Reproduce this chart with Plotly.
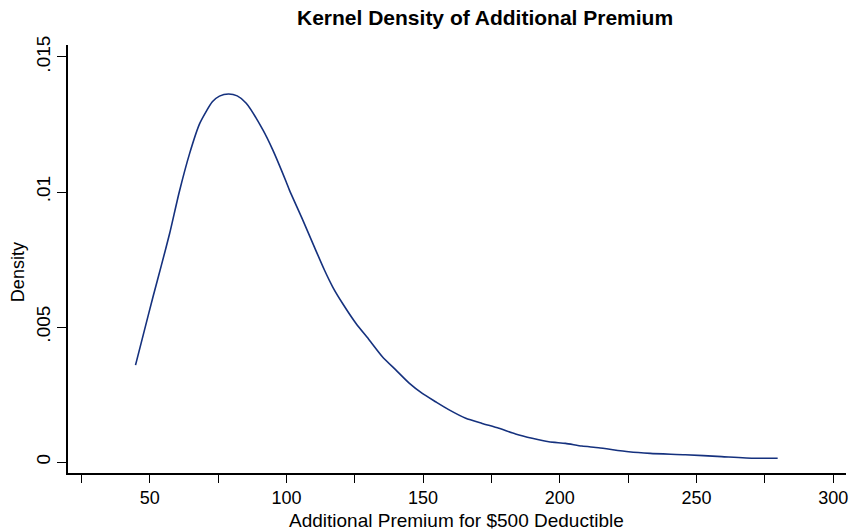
import plotly.graph_objects as go

# Kernel density estimate
premium = [44.8, 47.6, 51.2, 54.3, 57.3, 60.8, 64.6, 68.3, 72.9, 75.5, 78.8,
           82.0, 85.3, 91.4, 95.0, 99.9, 101.1, 106.0, 110.2, 113.9, 116.9,
           120.5, 125.4, 130.3, 135.1, 140.0, 144.9, 149.7, 154.6, 159.2,
           165.6, 171.6, 177.7, 183.8, 189.9, 196.0, 202.1, 208.1, 214.2,
           225.2, 233.1, 245.9, 259.2, 271.4, 279.7]
density = [0.00359, 0.00470, 0.00612, 0.00730, 0.00847, 0.01000, 0.01143,
           0.01254, 0.01334, 0.01355, 0.01363, 0.01356, 0.01329, 0.01230,
           0.01156, 0.01038, 0.01007, 0.00896, 0.00797, 0.00711, 0.00649,
           0.00588, 0.00514, 0.00452, 0.00390, 0.00341, 0.00292, 0.00254,
           0.00223, 0.00195, 0.00162, 0.00143, 0.00125, 0.00104, 0.00088,
           0.00075, 0.00069, 0.00059, 0.00053, 0.00038, 0.00032, 0.00027,
           0.00020, 0.00014, 0.00014]

x_tickvals = [25, 50, 75, 100, 125, 150, 175, 200, 225, 250, 275, 300]
x_ticktext = ["", "50", "", "100", "", "150", "", "200", "", "250", "", "300"]
y_tickvals = [0, 0.005, 0.01, 0.015]
y_ticktext = ["0", ".005", ".01", ".015"]

title_text = "Kernel Density of Additional Premium"
x_title = "Additional Premium for $500 Deductible"
y_title = "Density"

FONT = "Liberation Sans, Arial, sans-serif"
W, H = 857, 530
L, R, T, B = 68, 9, 45, 57
PW, PH = W - L - R, H - T - B


def px_x(px):
    return (px - L) / PW


def px_y(py):
    return (H - B - py) / PH


fig = go.Figure()
fig.add_trace(go.Scatter(
    x=premium, y=density, mode="lines",
    line=dict(color="#15317e", width=1.6, shape="spline", smoothing=0.6),
    showlegend=False, hoverinfo="skip",
))

fig.update_layout(
    width=W, height=H, autosize=False,
    margin=dict(l=L, r=R, t=T, b=B, pad=0),
    paper_bgcolor="white", plot_bgcolor="white",
    font=dict(family=FONT, size=18, color="black"),
    xaxis=dict(
        range=[20.1, 304.7], tickmode="array",
        tickvals=x_tickvals, ticktext=x_ticktext,
        showline=True, linecolor="black", linewidth=1.5,
        ticks="outside", ticklen=8, tickwidth=1.2, tickcolor="black",
        showgrid=False, zeroline=False,
        tickfont=dict(family=FONT, size=18, color="black"),
    ),
    yaxis=dict(
        range=[-0.000407, 0.015444], tickmode="array",
        tickvals=y_tickvals, ticktext=y_ticktext, tickangle=-90,
        showline=True, linecolor="black", linewidth=1.5,
        ticks="outside", ticklen=9, tickwidth=1.2, tickcolor="black",
        showgrid=False, zeroline=False,
        tickfont=dict(family=FONT, size=19, color="black"),
    ),
    annotations=[
        dict(text="<b>" + title_text + "</b>", x=px_x(486), y=px_y(17),
             xref="paper", yref="paper", xanchor="center", yanchor="middle",
             showarrow=False, font=dict(family=FONT, size=21, color="black")),
        dict(text=x_title, x=px_x(457), y=px_y(520),
             xref="paper", yref="paper", xanchor="center", yanchor="middle",
             showarrow=False, font=dict(family=FONT, size=19, color="black")),
        dict(text=y_title, x=px_x(18), y=px_y(272), textangle=-90,
             xref="paper", yref="paper", xanchor="center", yanchor="middle",
             showarrow=False, font=dict(family=FONT, size=18, color="black")),
    ],
)

fig.write_html("out.html")
